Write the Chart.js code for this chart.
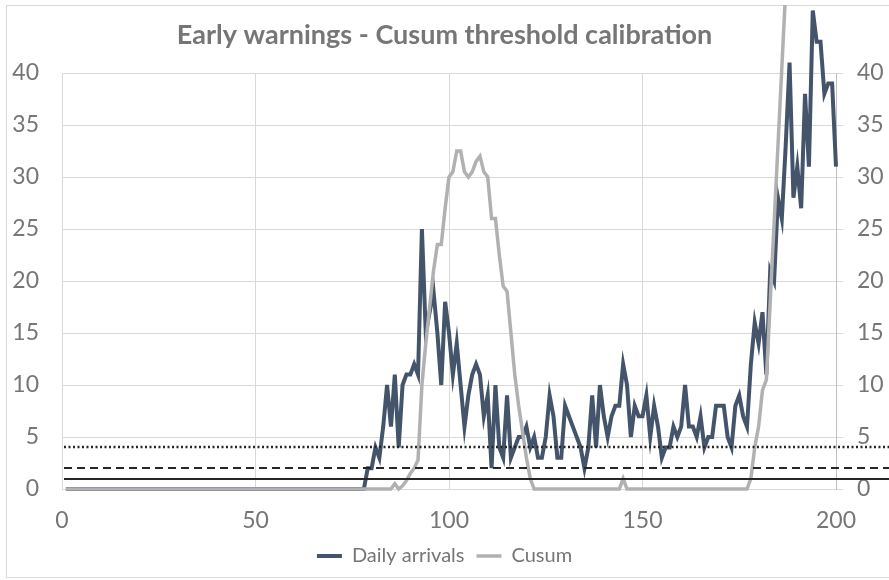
<!DOCTYPE html>
<html>
<head>
<meta charset="utf-8">
<script src="https://cdn.jsdelivr.net/npm/chart.js@4.4.1/dist/chart.umd.min.js"></script>
<style>
  html, body { margin: 0; padding: 0; background: #fff; }
  #wrap { width: 889px; height: 580px; }
</style>
</head>
<body>
<div id="wrap"><canvas id="cusum-chart" width="889" height="580"></canvas></div>
<script>
// day number for every observation
const days = [];
for (let d = 1; d <= 200; d++) days.push(d);

const dailyArrivals = [
  0, 0, 0, 0, 0, 0, 0, 0, 0, 0,   0, 0, 0, 0, 0, 0, 0, 0, 0, 0,
  0, 0, 0, 0, 0, 0, 0, 0, 0, 0,   0, 0, 0, 0, 0, 0, 0, 0, 0, 0,
  0, 0, 0, 0, 0, 0, 0, 0, 0, 0,   0, 0, 0, 0, 0, 0, 0, 0, 0, 0,
  0, 0, 0, 0, 0, 0, 0, 0, 0, 0,   0, 0, 0, 0, 0, 0, 0, 0, 2, 2,
  4, 3, 6, 10, 6, 11, 4, 10, 11, 11,   12, 11, 25, 15, 17, 19, 15, 10, 18, 15,
  11, 14, 10, 6, 9, 11, 12, 11, 7, 9,   2, 10, 4, 3, 9, 3, 4, 5, 5, 6,
  4, 5, 3, 3, 5, 9, 7, 3, 3, 8,   7, 6, 5, 4, 2, 4, 9, 4, 10, 7,
  5, 7, 8, 8, 12, 10, 5, 8, 7, 7,   9, 5, 8, 6, 3, 4, 4, 6, 5, 6,
  10, 6, 6, 5, 7, 4, 5, 5, 8, 8,   8, 5, 4, 8, 9, 7, 6, 12, 16, 14,
  17, 11, 21, 20, 28, 26, 33, 41, 28, 31,   27, 38, 31, 46, 43, 43, 38, 39, 39, 31
];

const cusum = [
  0, 0, 0, 0, 0, 0, 0, 0, 0, 0,   0, 0, 0, 0, 0, 0, 0, 0, 0, 0,
  0, 0, 0, 0, 0, 0, 0, 0, 0, 0,   0, 0, 0, 0, 0, 0, 0, 0, 0, 0,
  0, 0, 0, 0, 0, 0, 0, 0, 0, 0,   0, 0, 0, 0, 0, 0, 0, 0, 0, 0,
  0, 0, 0, 0, 0, 0, 0, 0, 0, 0,   0, 0, 0, 0, 0, 0, 0, 0, 0, 0,
  0, 0, 0, 0, 0, 0.5, 0, 0.3, 0.8, 1.5,   2, 2.8, 10, 14, 17.5, 21, 23.5, 23.5, 27, 30,
  30.5, 32.5, 32.5, 30.5, 30, 30.5, 31.5, 32, 30.5, 30,   26, 26, 22.5, 19.5, 19, 15, 11, 8, 5.5, 3,
  1, 0, 0, 0, 0, 0, 0, 0, 0, 0,   0, 0, 0, 0, 0, 0, 0, 0, 0, 0,
  0, 0, 0, 0, 1, 0, 0, 0, 0, 0,   0, 0, 0, 0, 0, 0, 0, 0, 0, 0,
  0, 0, 0, 0, 0, 0, 0, 0, 0, 0,   0, 0, 0, 0, 0, 0, 0, 1, 4, 6,
  9.5, 10.5, 18, 25.5, 33, 40.5, 48, 61, 71, 84,   93, 113, 126, 154, 179, 204, 224, 245, 266, 279
];

// threshold levels drawn across the chart
const thresholds = [1, 2, 4];
const thresholdDash = [[], [8, 5], [2, 2.5]];

const xTicks = [0, 50, 100, 150, 200];
const yTicks = [0, 5, 10, 15, 20, 25, 30, 35, 40];

const textGrey = '#767676';
const gridGrey = '#d9d9d9';

const toPoints = (vals) => vals.map((v, i) => ({ x: days[i], y: v }));

// light frame around the whole chart
const chartFrame = {
  id: 'chartFrame',
  beforeDraw(chart) {
    const c = chart.ctx;
    c.save();
    c.fillStyle = '#fff';
    c.fillRect(0, 0, chart.width, chart.height);
    c.strokeStyle = gridGrey;
    c.lineWidth = 1;
    c.strokeRect(6.5, 5.5, chart.width - 6, chart.height - 8);
    c.restore();
  }
};

// horizontal threshold lines, running on past the right axis
const thresholdLines = {
  id: 'thresholdLines',
  afterDatasetsDraw(chart) {
    const { ctx: c, chartArea, scales } = chart;
    c.save();
    c.strokeStyle = '#262626';
    thresholds.forEach((t, i) => {
      const y = Math.round(scales.y.getPixelForValue(t));
      c.lineWidth = i === 2 ? 2.3 : 2;
      c.setLineDash(thresholdDash[i]);
      c.beginPath();
      c.moveTo(chartArea.left + 2, y);
      c.lineTo(chart.width, y);
      c.stroke();
    });
    c.restore();
  }
};

new Chart(document.getElementById('cusum-chart'), {
  type: 'line',
  data: {
    datasets: [
      {
        label: 'Daily arrivals',
        data: toPoints(dailyArrivals),
        borderColor: '#44546a',
        backgroundColor: '#44546a',
        borderWidth: 4,
        pointRadius: 0,
        tension: 0,
        yAxisID: 'y',
        order: 2,
        clip: false
      },
      {
        label: 'Cusum',
        data: toPoints(cusum),
        borderColor: '#b1b1b3',
        backgroundColor: '#b1b1b3',
        borderWidth: 3.5,
        pointRadius: 0,
        tension: 0,
        yAxisID: 'y2',
        order: 1,
        clip: { left: false, top: 68, right: false, bottom: false }
      }
    ]
  },
  options: {
    responsive: false,
    animation: false,
    layout: { padding: { left: 0, right: 0, top: 0, bottom: 4 } },
    plugins: {
      title: {
        display: true,
        text: 'Early warnings - Cusum threshold calibration',
        color: textGrey,
        font: { family: 'Lato', size: 27, weight: 'bold' },
        padding: { top: 19, bottom: 21.6 }
      },
      legend: {
        position: 'bottom',
        labels: {
          color: textGrey,
          font: { family: 'Lato', size: 20 },
          usePointStyle: true,
          pointStyle: 'line',
          pointStyleWidth: 25,
          padding: 12,
          sort: (a, b) => a.datasetIndex - b.datasetIndex
        }
      },
      tooltip: { enabled: false }
    },
    scales: {
      x: {
        type: 'linear',
        min: 0,
        max: 200,
        afterBuildTicks: (s) => { s.ticks = xTicks.map(v => ({ value: v })); },
        afterFit: (s) => {
          const lg = s.chart.legend;
          s.height = 580 - 489 - (lg ? lg.height : 0) - 4;
        },
        grid: { color: gridGrey, drawTicks: false },
        border: { color: gridGrey },
        ticks: { color: textGrey, font: { family: 'Lato', size: 23 }, padding: 18 }
      },
      y: {
        position: 'left',
        min: 0,
        max: 40,
        afterBuildTicks: (s) => { s.ticks = yTicks.map(v => ({ value: v })); },
        afterFit: (s) => { s.width = 62; },
        grid: { color: gridGrey, drawTicks: false },
        border: { display: false },
        ticks: { color: textGrey, font: { family: 'Lato', size: 23 }, padding: 23 }
      },
      y2: {
        position: 'right',
        min: 0,
        max: 40,
        afterBuildTicks: (s) => { s.ticks = yTicks.map(v => ({ value: v })); },
        afterFit: (s) => { s.width = 53; },
        grid: { drawOnChartArea: false, color: gridGrey, tickLength: 7 },
        border: { color: '#bfbfbf' },
        ticks: { color: textGrey, font: { family: 'Lato', size: 23 }, padding: 14 }
      }
    }
  },
  plugins: [chartFrame, thresholdLines]
});
</script>
</body>
</html>
